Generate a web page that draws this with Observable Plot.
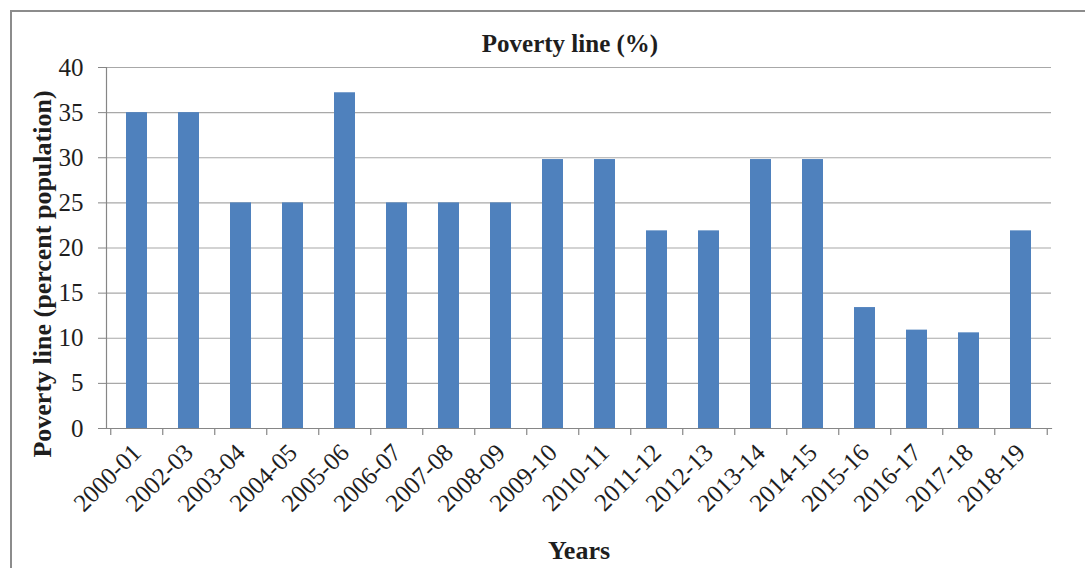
<!DOCTYPE html>
<html>
<head>
<meta charset="utf-8">
<script src="https://cdn.jsdelivr.net/npm/d3@7"></script>
<script src="https://cdn.jsdelivr.net/npm/@observablehq/plot@0.6"></script>
<style>
  html, body { margin: 0; padding: 0; background: #fff; overflow: hidden; }
  #wrap { position: relative; width: 1085px; height: 568px; overflow: hidden; }
  #box {
    position: absolute; left: 10px; top: 10px; width: 1100px; height: 600px;
    border: 2px solid #8c8c8c; box-sizing: border-box;
  }
  #chart { position: absolute; left: 0; top: 0; }
</style>
</head>
<body>
<div id="wrap">
  <div id="box"></div>
  <div id="chart"></div>
</div>
<script>
// Survey years
const years = [
  "2000-01", "2002-03", "2003-04", "2004-05", "2005-06", "2006-07",
  "2007-08", "2008-09", "2009-10", "2010-11", "2011-12", "2012-13",
  "2013-14", "2014-15", "2015-16", "2016-17", "2017-18", "2018-19"
];
// Population below the poverty line (%)
const povertyShare = [
  35, 35, 25, 25, 37.2, 25,
  25, 25, 29.8, 29.8, 21.9, 21.9,
  29.8, 29.8, 13.4, 10.9, 10.6, 21.9
];
const yTicks = [0, 5, 10, 15, 20, 25, 30, 35, 40];

const rows = years.map((year, i) => ({year, value: povertyShare[i]}));

const W = 1085, H = 568;
const mL = 106, mR = 34, mT = 67, mB = 140;
const step = (W - mL - mR) / years.length;
const innerH = H - mT - mB;
const axisGray = "#868686";
const ink = "#1e1e1e";
const serif = "'Liberation Serif', 'Times New Roman', serif";

const chart = Plot.plot({
  width: W,
  height: H,
  marginLeft: mL,
  marginRight: mR,
  marginTop: mT,
  marginBottom: mB,
  style: {fontFamily: serif, background: "transparent", color: ink},
  x: {domain: years, paddingInner: 0.6, paddingOuter: 0.3, label: null},
  y: {domain: [0, 40], label: null},
  marks: [
    Plot.gridY(yTicks, {stroke: "#a8a8a8", strokeOpacity: 1, strokeWidth: 1.2}),
    Plot.barY(rows, {x: "year", y: "value", fill: "#4f81bd"}),
    Plot.frame({anchor: "left", stroke: axisGray, strokeWidth: 1.2}),
    Plot.frame({anchor: "bottom", stroke: axisGray, strokeWidth: 1.2}),
    // category boundary ticks below the baseline
    Plot.tickX(years, {x: d => d, dx: -step / 2, stroke: axisGray, strokeWidth: 1.2, insetTop: innerH, insetBottom: -7}),
    Plot.tickX(years.slice(-1), {x: d => d, dx: step / 2, stroke: axisGray, strokeWidth: 1.2, insetTop: innerH, insetBottom: -7}),
    Plot.axisY({
      ticks: yTicks, tickSize: 8, tickPadding: 15, stroke: axisGray,
      fontSize: 25, label: null
    }),
    Plot.axisX({
      tickSize: 0, tickRotate: -45, tickPadding: 20, fontSize: 25, label: null
    }),
    Plot.text(["Poverty line (%)"], {
      frameAnchor: "top", dy: -33, dx: -9, fontSize: 25, fontWeight: "bold", fill: ink
    }),
    Plot.text(["Years"], {
      frameAnchor: "bottom", dy: 130, fontSize: 26, fontWeight: "bold", fill: ink
    }),
    Plot.text(["Poverty line (percent population)"], {
      frameAnchor: "left", dx: -64, dy: 26, rotate: -90, textAnchor: "middle",
      fontSize: 26, fontWeight: "bold", fill: ink
    })
  ]
});

document.getElementById("chart").appendChild(chart);
</script>
</body>
</html>
